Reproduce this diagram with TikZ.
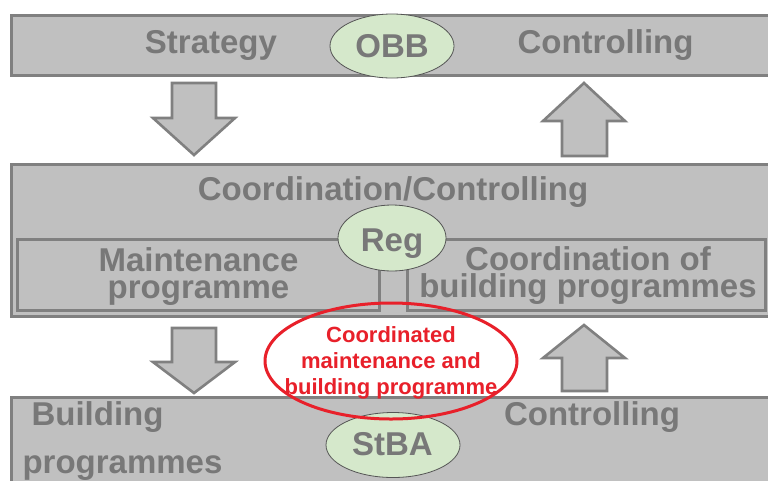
\documentclass[tikz,border=0pt]{standalone}
\usepackage{fontspec}
\setmainfont{Liberation Sans}
\usetikzlibrary{shapes.geometric}
\definecolor{boxfill}{HTML}{C0C0C0}
\definecolor{boxline}{HTML}{808080}
\definecolor{txtgray}{HTML}{787878}
\definecolor{ovalfill}{HTML}{D5E8CB}
\definecolor{ovalline}{HTML}{555555}
\definecolor{redline}{HTML}{E8202A}
\begin{document}
\begin{tikzpicture}[x=1pt,y=-1pt,
  panel/.style={rectangle, draw=boxline, fill=boxfill, line width=3pt, anchor=north west, inner sep=0pt, outer sep=0pt},
  innerbox/.style={rectangle, draw=boxline, line width=3pt, anchor=north west, inner sep=0pt, outer sep=0pt},
  blockarrow/.style={draw=boxline, fill=boxfill, line width=2.6pt, line join=miter},
  oval/.style={ellipse, draw=ovalline, fill=ovalfill, line width=0.8pt, inner sep=0pt},
  redoval/.style={ellipse, draw=redline, line width=3pt, inner sep=0pt},
  big/.style={text=txtgray, font=\fontsize{33}{33}\selectfont\bfseries, anchor=base, inner sep=0pt},
  redtxt/.style={text=redline, font=\fontsize{22}{22}\selectfont\bfseries, anchor=base, inner sep=0pt},
]
\useasboundingbox (0,0) rectangle (768,480);
\clip (0,0) rectangle (768,480);
\fill[white] (0,0) rectangle (768,480);

% top panel
\node (toppanel) [panel, minimum width=800pt, minimum height=59.5pt] at (11.5,15.5) {};
\node (obb) [oval, minimum width=124pt, minimum height=64pt] at (392,46) {};

% arrows between top and middle
\draw[blockarrow] (172,83) -- (216,83) -- (216,118) -- (235,118) -- (194,155) -- (153,118) -- (172,118) -- cycle;
\draw[blockarrow] (584,83) -- (625,121) -- (607,121) -- (607,156) -- (562,156) -- (562,121) -- (543,121) -- cycle;

% middle panel
\node (midpanel) [panel, minimum width=800pt, minimum height=152.5pt] at (11.5,164) {};
\node (maintbox) [innerbox, minimum width=362pt, minimum height=71pt] at (17.5,239.5) {};
\node (coordbox) [innerbox, minimum width=358pt, minimum height=71pt] at (407.5,239.5) {};
\node (reg) [oval, minimum width=108pt, minimum height=66pt] at (392,238) {};

% arrows between middle and bottom
\draw[blockarrow] (172,328) -- (216,328) -- (216,362) -- (235,362) -- (194,393) -- (153,362) -- (172,362) -- cycle;
\draw[blockarrow] (584,325) -- (625,358) -- (607,358) -- (607,391) -- (562,391) -- (562,358) -- (543,358) -- cycle;

% bottom panel
\node (botpanel) [panel, minimum width=800pt, minimum height=100pt] at (11.5,397) {};
\node (stba) [oval, minimum width=134pt, minimum height=65pt] at (393,445) {};

% red ellipse
\node (coordprog) [redoval, minimum width=252pt, minimum height=116pt] at (391,361) {};

% texts
\node (tStrategy) [big] at (211,53) {Strategy};
\node (tCtrlTop) [big] at (605.5,53) {Controlling};
\node (tOBB) [big] at (392,57) {OBB};
\node (tCoordCtrl) [big] at (393,200) {Coordination/Controlling};
\node (tReg) [big] at (392,251) {Reg};
\node (tMaint1) [big] at (198.5,271) {Maintenance};
\node (tMaint2) [big] at (198.5,298) {programme};
\node (tCoord1) [big] at (588,270) {Coordination of};
\node (tCoord2) [big] at (588,297) {building programmes};
\node (tBuild1) [big] at (97.5,425) {Building};
\node (tBuild2) [big] at (122.5,473) {programmes};
\node (tCtrlBot) [big] at (592,425) {Controlling};
\node (tStBA) [big] at (392.5,455) {StBA};
\node (tRed1) [redtxt] at (391,342) {Coordinated};
\node (tRed2) [redtxt] at (391,368) {maintenance and};
\node (tRed3) [redtxt] at (391,394) {building programme};
\end{tikzpicture}
\end{document}
